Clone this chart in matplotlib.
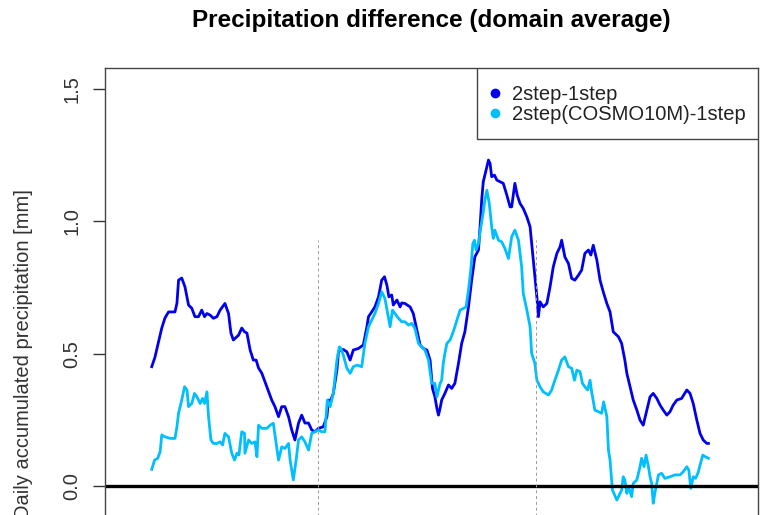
import matplotlib
matplotlib.use("Agg")
import matplotlib.pyplot as plt
from matplotlib.patches import Rectangle

plt.rcParams['font.family'] = ['Liberation Sans', 'DejaVu Sans']

# day of the period and domain averaged precipitation difference [mm]
day_2step = [0.0, 0.8, 1.7, 2.5, 3.3, 4.2, 5.8, 6.3, 6.7, 7.5, 8.3, 9.2, 10.0, 10.8, 11.7,
             12.5, 13.2, 13.8, 14.6, 15.4, 16.3, 17.1, 18.3, 19.2, 19.8, 20.4, 21.7, 22.5,
             23.2, 23.8, 24.6, 25.4, 26.1, 26.7, 27.5, 28.3, 29.2, 30.0, 30.8, 31.7, 32.5,
             33.3, 34.2, 35.0, 35.8, 36.7, 37.5, 38.3, 39.2, 40.0, 40.8, 41.7, 42.9, 43.8,
             44.2, 44.6, 45.4, 46.3, 46.7, 47.3, 47.9, 48.8, 49.6, 50.4, 51.7, 52.9, 53.8,
             54.2, 55.0, 55.8, 56.7, 57.5, 58.2, 58.8, 59.3, 60.0, 60.4, 61.3, 62.1, 62.5,
             63.3, 64.6, 65.4, 66.3, 67.1, 67.9, 68.8, 69.6, 70.2, 70.8, 71.3, 71.7, 72.1,
             72.5, 73.3, 74.2, 75.0, 75.8, 76.7, 77.5, 78.3, 79.2, 80.0, 80.8, 81.7, 82.1,
             82.5, 82.9, 83.6, 84.2, 84.6, 85.0, 85.7, 86.3, 87.1, 87.9, 88.8, 89.6, 90.0,
             90.8, 91.4, 92.1, 92.9, 93.8, 94.6, 95.4, 96.3, 96.7, 97.1, 97.9, 98.8, 99.6,
             100.4, 101.3, 102.1, 102.5, 103.3, 104.2, 105.0, 105.8, 106.7, 107.5, 108.3,
             109.2, 109.8, 110.4, 111.3, 112.1, 112.9, 113.8, 114.6, 115.4, 116.7, 117.5,
             118.3, 118.8, 119.6, 120.4, 121.3, 122.1, 122.9, 123.8, 124.6, 125.4, 126.3,
             127.1, 127.9, 128.8, 129.6, 130.4, 131.3, 132.5, 133.8, 134.6, 135.4, 136.3,
             137.1, 137.9, 138.8, 139.2]
diff_2step = [0.451, 0.487, 0.545, 0.597, 0.635, 0.658, 0.658, 0.691, 0.778, 0.786, 0.753,
              0.684, 0.672, 0.640, 0.640, 0.665, 0.640, 0.652, 0.646, 0.634, 0.640, 0.665,
              0.690, 0.652, 0.578, 0.552, 0.570, 0.597, 0.583, 0.578, 0.514, 0.476, 0.476,
              0.446, 0.427, 0.394, 0.356, 0.325, 0.300, 0.262, 0.300, 0.300, 0.262, 0.212,
              0.174, 0.238, 0.268, 0.238, 0.238, 0.212, 0.205, 0.218, 0.224, 0.262, 0.325,
              0.318, 0.350, 0.438, 0.507, 0.514, 0.516, 0.507, 0.476, 0.514, 0.520, 0.533,
              0.602, 0.640, 0.658, 0.677, 0.715, 0.778, 0.791, 0.759, 0.715, 0.722, 0.684,
              0.703, 0.677, 0.692, 0.690, 0.677, 0.652, 0.589, 0.533, 0.520, 0.514, 0.476,
              0.369, 0.337, 0.294, 0.268, 0.294, 0.325, 0.350, 0.382, 0.369, 0.388, 0.464,
              0.539, 0.583, 0.677, 0.778, 0.866, 0.892, 0.980, 1.080, 1.150, 1.194, 1.232,
              1.219, 1.169, 1.175, 1.156, 1.150, 1.144, 1.099, 1.055, 1.055, 1.144, 1.099,
              1.068, 1.049, 1.017, 0.980, 0.854, 0.715, 0.640, 0.696, 0.677, 0.690, 0.753,
              0.828, 0.879, 0.904, 0.929, 0.866, 0.841, 0.785, 0.778, 0.797, 0.816, 0.879,
              0.892, 0.873, 0.910, 0.854, 0.778, 0.734, 0.690, 0.658, 0.583, 0.564, 0.539,
              0.476, 0.426, 0.375, 0.325, 0.287, 0.249, 0.230, 0.287, 0.337, 0.350, 0.331,
              0.306, 0.287, 0.268, 0.281, 0.306, 0.325, 0.331, 0.363, 0.350, 0.312, 0.249,
              0.199, 0.174, 0.161, 0.161]

day_cosmo = [0.0, 0.7, 1.5, 2.1, 2.5, 3.3, 4.6, 5.8, 6.3, 6.7, 7.5, 8.2, 8.8, 9.2, 10.0,
             10.7, 11.3, 12.1, 12.7, 13.2, 13.8, 14.2, 14.8, 15.4, 16.3, 17.1, 17.7, 18.3,
             19.2, 20.0, 20.7, 21.3, 21.8, 22.5, 23.2, 23.3, 24.2, 25.0, 25.8, 26.3, 26.7,
             27.5, 28.8, 29.6, 30.4, 31.1, 31.7, 32.5, 33.3, 34.2, 34.6, 35.4, 36.1, 36.7,
             37.5, 38.3, 39.2, 40.0, 40.8, 41.7, 42.5, 43.3, 43.9, 44.6, 45.4, 46.3, 46.9,
             47.3, 47.9, 48.8, 49.6, 50.4, 51.3, 52.5, 53.3, 54.2, 55.0, 55.8, 56.7, 57.5,
             58.3, 59.0, 59.6, 60.2, 60.8, 61.7, 62.5, 63.3, 64.2, 65.0, 65.8, 66.7, 67.5,
             68.3, 69.2, 70.0, 70.8, 71.3, 72.1, 72.5, 72.9, 73.3, 73.8, 74.6, 75.4, 76.3,
             77.1, 77.9, 78.6, 79.2, 79.8, 80.3, 80.7, 81.1, 81.7, 82.3, 82.9, 83.3, 83.8,
             84.4, 85.0, 85.4, 85.8, 86.7, 87.5, 88.3, 89.2, 90.0, 90.8, 91.7, 92.5, 92.9,
             93.8, 94.6, 95.0, 95.8, 96.3, 97.1, 97.9, 99.2, 100.0, 100.8, 101.7, 102.5,
             103.3, 104.2, 105.0, 105.7, 106.3, 107.1, 107.7, 108.3, 109.0, 109.6, 110.0,
             110.8, 111.7, 112.5, 113.0, 113.8, 114.2, 114.6, 115.2, 116.3, 117.1, 117.5,
             117.9, 118.3, 118.8, 119.2, 119.6, 120.0, 120.4, 121.3, 122.1, 122.5, 123.1,
             123.6, 124.2, 124.6, 125.0, 125.4, 125.8, 126.3, 126.7, 127.5, 128.3, 129.6,
             130.8, 132.1, 132.9, 133.8, 134.3, 134.8, 135.4, 136.0, 136.7, 137.1, 137.8,
             138.4, 139.2]
diff_cosmo = [0.063, 0.098, 0.105, 0.130, 0.193, 0.186, 0.180, 0.180, 0.224, 0.275, 0.325,
              0.375, 0.363, 0.300, 0.312, 0.350, 0.337, 0.312, 0.331, 0.312, 0.356, 0.262,
              0.174, 0.161, 0.161, 0.167, 0.155, 0.199, 0.186, 0.124, 0.098, 0.124, 0.117,
              0.205, 0.199, 0.124, 0.174, 0.161, 0.167, 0.111, 0.230, 0.218, 0.218, 0.230,
              0.237, 0.161, 0.098, 0.148, 0.142, 0.161, 0.098, 0.023, 0.098, 0.174, 0.186,
              0.167, 0.136, 0.199, 0.205, 0.212, 0.205, 0.205, 0.325, 0.300, 0.350, 0.476,
              0.526, 0.520, 0.495, 0.445, 0.426, 0.451, 0.457, 0.451, 0.539, 0.602, 0.627,
              0.652, 0.690, 0.734, 0.709, 0.652, 0.602, 0.665, 0.652, 0.634, 0.621, 0.621,
              0.608, 0.615, 0.596, 0.539, 0.526, 0.514, 0.476, 0.388, 0.388, 0.337, 0.388,
              0.400, 0.464, 0.501, 0.539, 0.552, 0.583, 0.627, 0.665, 0.671, 0.677, 0.740,
              0.822, 0.917, 0.929, 0.892, 0.917, 0.980, 1.036, 1.080, 1.118, 1.068, 0.980,
              0.936, 0.967, 0.929, 0.923, 0.898, 0.860, 0.942, 0.967, 0.929, 0.828, 0.728,
              0.665, 0.602, 0.501, 0.464, 0.400, 0.375, 0.356, 0.344, 0.363, 0.400, 0.438,
              0.476, 0.488, 0.451, 0.445, 0.400, 0.438, 0.432, 0.388, 0.375, 0.363, 0.400,
              0.356, 0.287, 0.281, 0.275, 0.318, 0.262, 0.136, 0.098, -0.015, -0.053, -0.028,
              -0.015, 0.035, 0.023, -0.028, -0.003, -0.022, -0.040, 0.010, 0.023, 0.073,
              0.105, 0.073, 0.117, 0.073, 0.035, 0.010, -0.065, -0.028, 0.010, 0.042, 0.048,
              0.029, 0.035, 0.042, 0.042, 0.054, 0.073, 0.060, -0.009, 0.035, 0.029, 0.054,
              0.079, 0.117, 0.111, 0.105]

# period boundaries
boundaries = [41.6, 96.1]

series_names = ['2step-1step', '2step(COSMO10M)-1step']
series_colors = ['#0000EE', '#00BFFF']

fig = plt.figure(figsize=(7.69, 5.15), dpi=100)
ax = fig.add_axes([0.1365, -0.2417, 0.8492, 1.1097])

ax.plot(day_2step, diff_2step, color=series_colors[0], lw=2.0)
ax.plot(day_cosmo, diff_cosmo, color=series_colors[1], lw=2.0)
ax.axhline(0, color='black', lw=2.4)
ax.vlines(boundaries, -0.58, 0.93, colors='#999999', linestyles=(0, (3, 3)), lw=0.7)

ax.set_xlim(-11.7, 151.6)
ax.set_ylim(-0.58, 1.58)
ax.set_xticks([])
ax.set_yticks([-0.5, 0.0, 0.5, 1.0, 1.5])
ax.set_yticklabels(['-0.5', '0.0', '0.5', '1.0', '1.5'], rotation=90, va='center', fontsize=14.5)
ax.tick_params(axis='y', length=9, width=1, pad=8, colors='#333333', labelcolor='#333333')
for s in ax.spines.values():
    s.set_color('#444444')
    s.set_linewidth(1.0)

ax.set_ylabel('Daily accumulated precipitation [mm]', fontsize=14.5, color='#333333')
ax.yaxis.set_label_coords(-0.110, 0.5)

fig.text(431.5 / 769, 1 - 20 / 515, 'Precipitation difference (domain average)',
         ha='center', va='center', fontsize=17.5, fontweight='bold')

# legend box in the top right corner, R style
ax.add_patch(Rectangle((0.5697, 0.8758), 0.4303, 0.1242, transform=ax.transAxes,
                       facecolor='white', edgecolor='#444444', lw=1.0, zorder=5))
for i, (name, col) in enumerate(zip(series_names, series_colors)):
    yy = 0.9535 - i * 0.035
    ax.plot([0.5972], [yy + 0.002], 'o', ms=6, color=col, transform=ax.transAxes, zorder=6,
            clip_on=False)
    ax.text(0.6228, yy, name, transform=ax.transAxes, ha='left', va='center',
            fontsize=14.5, color='#222222', zorder=6)

fig.savefig('out.png', dpi=100)
